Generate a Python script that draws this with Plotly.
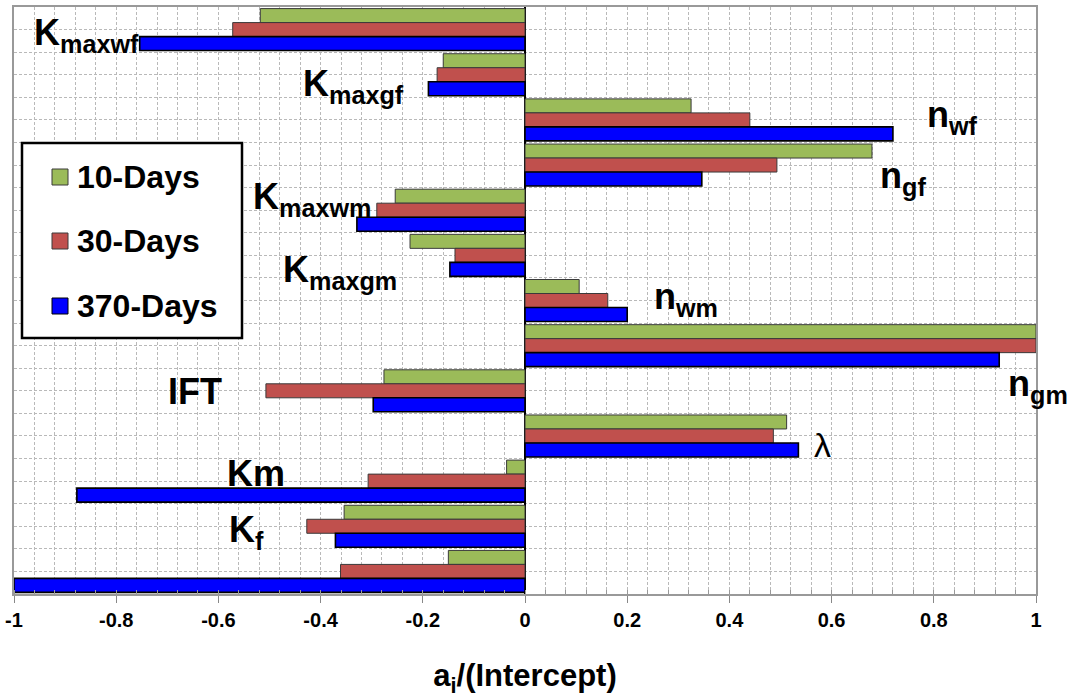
import plotly.graph_objects as go

# ---------------- data ----------------
categories = ["Kmaxwf", "Kmaxgf", "nwf", "ngf", "Kmaxwm", "Kmaxgm", "nwm",
              "ngm", "IFT", "lambda", "Km", "Kf", "other"]
series_names = ["10-Days", "30-Days", "370-Days"]
days10 = [-0.518, -0.160, 0.325, 0.679, -0.254, -0.225, 0.106, 1.000, -0.276, 0.512, -0.036, -0.354, -0.150]
days30 = [-0.572, -0.172, 0.440, 0.493, -0.290, -0.137, 0.162, 1.000, -0.507, 0.486, -0.307, -0.427, -0.361]
days370 = [-0.754, -0.189, 0.720, 0.346, -0.329, -0.147, 0.200, 0.928, -0.297, 0.535, -0.877, -0.371, -1.000]
tick_vals = [-1, -0.8, -0.6, -0.4, -0.2, 0, 0.2, 0.4, 0.6, 0.8, 1]
tick_text = ["-1", "-0.8", "-0.6", "-0.4", "-0.2", "0", "0.2", "0.4", "0.6", "0.8", "1"]
label_texts = ["K<sub>maxwf</sub>", "K<sub>maxgf</sub>", "n<sub>wf</sub>", "n<sub>gf</sub>",
               "K<sub>maxwm</sub>", "K<sub>maxgm</sub>", "n<sub>wm</sub>", "n<sub>gm</sub>",
               "IFT", "λ", "Km", "K<sub>f</sub>", ""]

# ---------------- styling ----------------
colors = ["#9BBB59", "#C0504D", "#0000FF"]
outline = ["#3a3a3a", "#3a3a3a", "#000000"]
outline_w = [1, 1, 1.6]
FONT = "Liberation Sans, Arial, sans-serif"

# label placement: (x in data units for left edge, yshift px)
label_pos = [(-0.965, -5), (-0.438, -11), (0.783, 3), (0.691, -13),
             (-0.536, 11), (-0.478, -17), (0.248, 2), (0.941, -40),
             (-0.703, -1), (0.562, -9), (-0.587, 8), (-0.583, -6), (0, 0)]

FIG_W, FIG_H = 1072, 698
M_L, M_R, M_T, M_B = 14, 36, 7, 104

fig = go.Figure()
for name, vals, c, oc, ow in zip(series_names, [days10, days30, days370], colors, outline, outline_w):
    fig.add_trace(go.Bar(
        x=vals, y=categories, orientation="h", name=name,
        marker=dict(color=c, line=dict(color=oc, width=ow)),
        showlegend=False,
    ))
# empty trace so that the overlay axis (horizontal grid) is drawn
fig.add_trace(go.Scatter(x=[None], y=[None], yaxis="y2", showlegend=False,
                         hoverinfo="skip", mode="markers"))

grid_col = "#b9b9b9"
fig.update_layout(
    width=FIG_W, height=FIG_H,
    margin=dict(l=M_L, r=M_R, t=M_T, b=M_B),
    paper_bgcolor="white", plot_bgcolor="white",
    barmode="group", bargap=0.07, bargroupgap=0,
    font=dict(family=FONT, color="black"),
    xaxis=dict(
        range=[-1, 1], tickvals=tick_vals, ticktext=tick_text,
        tickfont=dict(size=20, family=FONT, weight="bold", color="black"),
        ticklabeloverflow="allow",
        ticks="outside", ticklen=7, tickcolor="#888", tickwidth=1,
        showgrid=True, gridcolor=grid_col, gridwidth=1, griddash="3px,2px",
        minor=dict(dtick=0.04, showgrid=True, gridcolor=grid_col, gridwidth=1,
                   griddash="3px,2px", ticks="inside", ticklen=4, tickcolor="#999"),
        zeroline=True, zerolinecolor="black", zerolinewidth=1.5,
        showline=True, linecolor="#999", linewidth=1.5, mirror=True,
        title=dict(text="a<sub>i</sub>/(Intercept)", font=dict(size=31, family=FONT, weight="bold"),
                   standoff=40),
        automargin=False,
    ),
    yaxis=dict(
        type="category", categoryorder="array", categoryarray=categories,
        range=[len(categories) - 0.5, -0.5],
        showticklabels=False, showgrid=False, zeroline=False, ticks="",
        showline=True, linecolor="#999", linewidth=1.5, mirror=True,
    ),
    yaxis2=dict(
        overlaying="y", anchor="x", range=[0, 26], dtick=1, side="right",
        showgrid=True, gridcolor=grid_col, gridwidth=1, griddash="3px,2px",
        showticklabels=False, ticks="", zeroline=False, showline=False,
    ),
)

# category labels
for cat, txt, (lx, ys) in zip(categories, label_texts, label_pos):
    if not txt:
        continue
    is_lambda = txt == "λ"
    fig.add_annotation(
        x=lx, y=cat, xref="x", yref="y", text=txt, showarrow=False,
        xanchor="left", yanchor="middle", yshift=ys,
        font=dict(size=34 if is_lambda else 36, family=FONT,
                  weight="normal" if is_lambda else "bold", color="black"),
    )

# legend box (drawn manually); pixel positions are page pixels
PW = FIG_W - M_L - M_R
PH = FIG_H - M_T - M_B
def px_x(p):
    return (p - M_L) / PW
def px_y(p):
    return 1 - (p - M_T) / PH

fig.add_shape(type="rect", xref="paper", yref="paper",
              x0=px_x(22), x1=px_x(242), y0=px_y(338), y1=px_y(143),
              line=dict(color="black", width=2.5), fillcolor="white", layer="above")
for i, (name, c, oc) in enumerate(zip(series_names, colors, outline)):
    cy = [177, 241, 306][i]
    fig.add_shape(type="rect", xref="paper", yref="paper",
                  x0=px_x(52), x1=px_x(68), y0=px_y(cy + 8), y1=px_y(cy - 8),
                  line=dict(color=oc, width=1), fillcolor=c, layer="above")
    fig.add_annotation(x=px_x(75), y=px_y(cy), xref="paper", yref="paper",
                       text=name, showarrow=False, xanchor="left", yanchor="middle",
                       font=dict(size=32, family=FONT, weight="bold", color="black"))

fig.write_html("out.html", config={"displayModeBar": False},
               post_script="document.body.style.margin='0';")
